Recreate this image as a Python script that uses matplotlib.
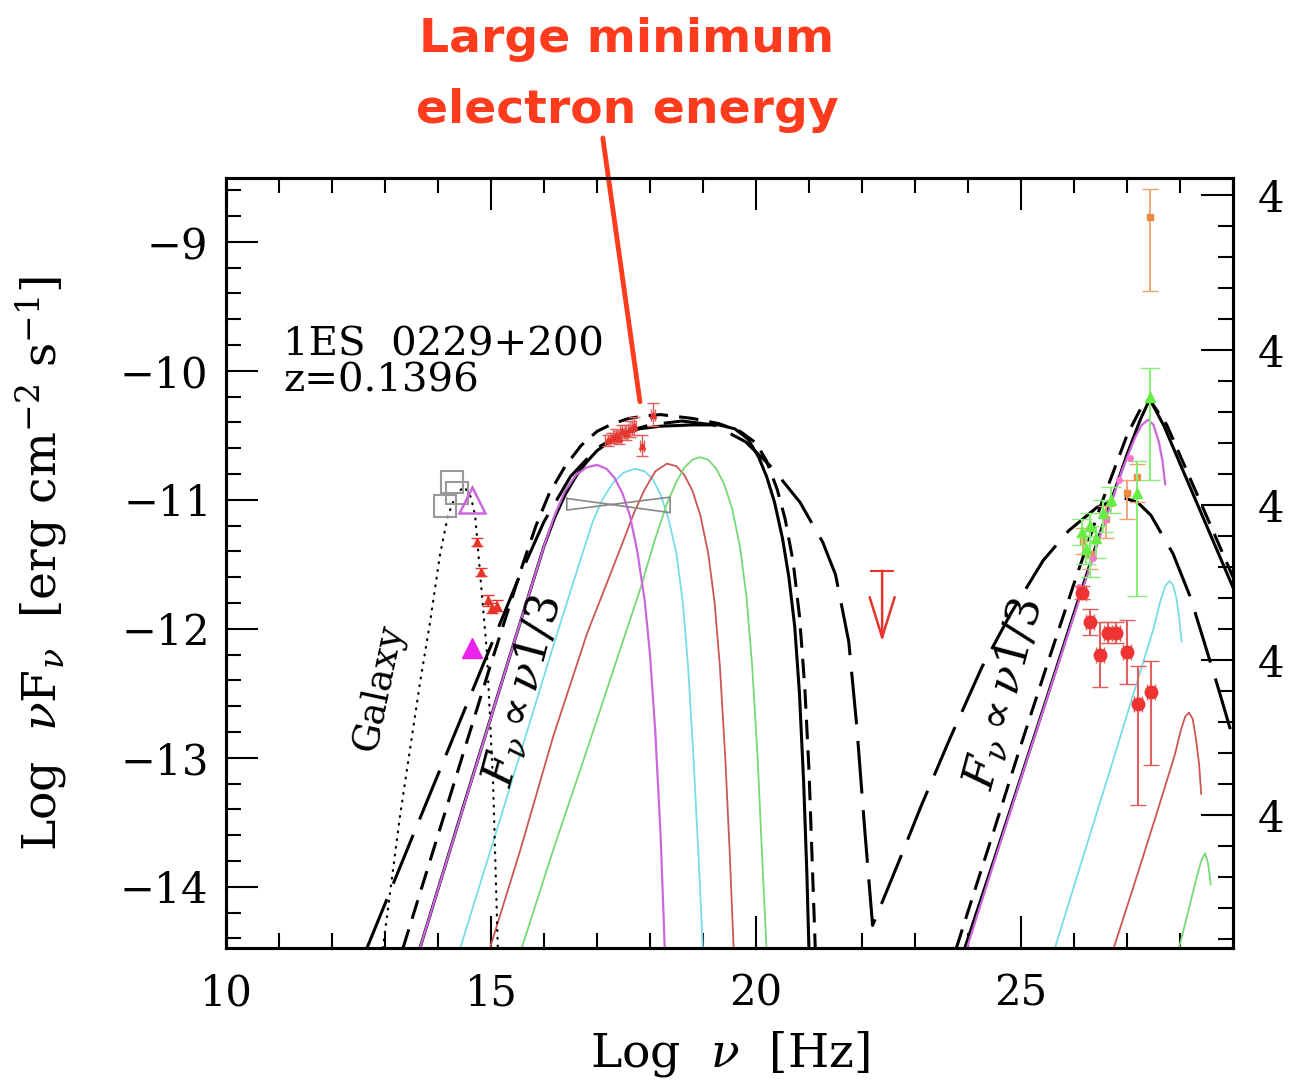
import numpy as np
import matplotlib
matplotlib.use("Agg")
import matplotlib.pyplot as plt
from matplotlib.ticker import MultipleLocator, FixedLocator, FixedFormatter

plt.rcParams['font.family'] = ['DejaVu Serif']
plt.rcParams['mathtext.fontset'] = 'dejavuserif'
plt.rcParams['lines.scale_dashes'] = False

# ---------------- data (Log nu, Log nuFnu) ----------------
# model curves
solid_syn_x = [13.66, 14.5, 15.5, 16.0, 16.2, 16.4, 16.6, 16.8, 17.0, 17.2, 17.5, 17.8, 18.2, 18.8, 19.3, 19.6, 19.85, 20.05, 20.2, 20.35, 20.5, 20.62, 20.73, 20.82, 20.9, 20.96, 21.0]
solid_syn_y = [-14.475, -13.35, -12.02, -11.36, -11.14, -10.96, -10.82, -10.71, -10.62, -10.56, -10.49, -10.45, -10.43, -10.42, -10.42, -10.45, -10.53, -10.67, -10.82, -11.02, -11.3, -11.6, -11.98, -12.5, -13.2, -13.9, -14.5]

sd_syn_x = [13.34, 14.0, 15.0, 15.6, 15.85, 16.1, 16.4, 16.7, 17.0, 17.3, 17.6, 17.9, 18.2, 18.8, 19.3, 19.7, 20.0, 20.2, 20.4, 20.55, 20.7, 20.82, 20.92, 21.0, 21.06, 21.12]
sd_syn_y = [-14.475, -13.6, -12.27, -11.5, -11.2, -10.95, -10.74, -10.58, -10.47, -10.41, -10.37, -10.35, -10.34, -10.37, -10.41, -10.47, -10.56, -10.7, -10.92, -11.15, -11.48, -11.9, -12.45, -13.1, -13.8, -14.5]

ld_x = [12.66, 13.5, 14.5, 15.5, 16.0, 16.5, 17.0, 17.5, 18.0, 18.6, 19.2, 19.8, 20.3, 20.83, 21.26, 21.5, 21.75, 21.9, 22.05, 22.2, 22.45, 22.72, 23.11, 23.66, 24.26, 24.81, 25.42, 25.9, 26.43, 26.9, 27.2, 27.45, 27.87, 28.2, 28.7, 29.0]
ld_y = [-14.475, -13.63, -12.63, -11.63, -11.17, -10.82, -10.6, -10.48, -10.42, -10.39, -10.42, -10.55, -10.75, -11.02, -11.33, -11.58, -12.1, -12.75, -13.55, -14.3, -14.05, -13.78, -13.38, -12.85, -12.3, -11.88, -11.47, -11.24, -11.06, -10.98, -11.02, -11.12, -11.42, -11.76, -12.43, -12.85]

ic_solid_x = [23.94, 24.5, 25.0, 25.5, 26.0, 26.5, 27.0, 27.25, 27.43, 27.7, 28.0, 28.5, 29.0]
ic_solid_y = [-14.475, -13.78, -13.15, -12.52, -11.88, -11.25, -10.65, -10.38, -10.22, -10.43, -10.72, -11.2, -11.68]

ic_sd_x = [23.78, 24.5, 25.0, 25.5, 26.0, 26.5, 27.0, 27.25, 27.42, 27.75, 28.1, 28.6, 29.0]
ic_sd_y = [-14.475, -13.55, -12.9, -12.27, -11.65, -11.05, -10.5, -10.3, -10.22, -10.42, -10.75, -11.22, -11.6]

# emission components (synchrotron bump)
mag_x = [13.66, 14.5, 15.5, 16.0, 16.2, 16.4, 16.6, 16.8, 17.0, 17.18, 17.33, 17.48, 17.62, 17.76, 17.9, 18.0, 18.1, 18.2, 18.28]
mag_y = [-14.475, -13.355, -12.02, -11.36, -11.12, -10.93, -10.81, -10.75, -10.73, -10.76, -10.83, -10.95, -11.12, -11.4, -11.78, -12.2, -12.8, -13.6, -14.5]
cya_x = [14.42, 15.2, 16.2, 16.7, 16.92, 17.1, 17.3, 17.5, 17.72, 17.9, 18.05, 18.2, 18.35, 18.5, 18.62, 18.72, 18.82, 18.92, 19.0]
cya_y = [-14.475, -13.44, -12.1, -11.45, -11.17, -11.0, -10.87, -10.79, -10.76, -10.78, -10.84, -10.96, -11.15, -11.42, -11.8, -12.3, -13.0, -13.8, -14.5]
red_x = [14.98, 15.55, 16.17, 16.81, 17.43, 17.7, 17.9, 18.1, 18.32, 18.5, 18.65, 18.8, 18.95, 19.1, 19.22, 19.32, 19.42, 19.5, 19.58]
red_y = [-14.475, -13.72, -12.84, -12.04, -11.39, -11.1, -10.92, -10.78, -10.72, -10.74, -10.81, -10.93, -11.12, -11.42, -11.8, -12.3, -13.0, -13.7, -14.5]
grn_x = [15.58, 16.17, 16.81, 17.43, 17.81, 18.1, 18.32, 18.5, 18.65, 18.8, 18.94, 19.1, 19.25, 19.4, 19.55, 19.7, 19.82, 19.93, 20.03, 20.12, 20.2]
grn_y = [-14.475, -13.72, -12.94, -12.17, -11.70, -11.3, -11.03, -10.86, -10.75, -10.69, -10.67, -10.69, -10.76, -10.88, -11.07, -11.37, -11.75, -12.3, -13.0, -13.8, -14.5]

# emission components (inverse Compton bump)
mag_ic_x = [23.98, 24.5, 25.0, 25.5, 26.0, 26.5, 26.9, 27.15, 27.28, 27.4, 27.5, 27.6, 27.67, 27.72]
mag_ic_y = [-14.475, -13.8, -13.16, -12.53, -11.9, -11.27, -10.78, -10.52, -10.42, -10.38, -10.42, -10.55, -10.7, -10.88]
cya_ic_x = [25.64, 26.2, 26.7, 27.2, 27.5, 27.62, 27.72, 27.8, 27.87, 27.93, 27.98, 28.03]
cya_ic_y = [-14.475, -13.73, -13.07, -12.4, -12.0, -11.8, -11.67, -11.63, -11.66, -11.76, -11.9, -12.1]
red_ic_x = [26.75, 27.2, 27.6, 27.9, 28.02, 28.1, 28.17, 28.24, 28.3, 28.36, 28.4]
red_ic_y = [-14.475, -13.9, -13.38, -12.98, -12.78, -12.68, -12.65, -12.7, -12.85, -13.05, -13.28]
grn_ic_x = [27.98, 28.15, 28.3, 28.4, 28.47, 28.53, 28.58]
grn_ic_y = [-14.475, -14.2, -13.95, -13.8, -13.74, -13.82, -13.98]

# galaxy template
gal_line_x = [12.96, 13.28, 13.66, 13.85, 14.04, 14.19, 14.35, 14.5, 14.62, 14.7, 14.79, 14.92, 15.04, 15.13]
gal_line_y = [-14.475, -13.46, -12.42, -11.95, -11.42, -11.12, -10.95, -10.9, -10.98, -11.12, -11.55, -12.17, -13.2, -14.5]

# observed points
gal_x = [14.27, 14.36, 14.13]
gal_y = [-10.86, -10.95, -11.05]
otri_x = [14.64]
otri_y = [-11.0]
ftri_x = [14.64]
ftri_y = [-12.15]
uv_x = [14.74, 14.81, 14.94, 15.02, 15.11]
uv_y = [-11.33, -11.56, -11.78, -11.84, -11.82]
uv_e = [0.03, 0.03, 0.04, 0.04, 0.04]

xr_x = [17.2, 17.28, 17.35, 17.42, 17.48, 17.55, 17.62, 17.7, 17.85, 18.06]
xr_y = [-10.54, -10.52, -10.50, -10.52, -10.47, -10.48, -10.45, -10.43, -10.58, -10.34]
xr_e = [0.04, 0.04, 0.05, 0.05, 0.05, 0.06, 0.06, 0.07, 0.08, 0.09]

bow_x = [16.43, 18.38, 18.38, 16.43, 16.43]
bow_y = [-10.99, -11.10, -10.98, -11.08, -10.99]

ul_x = [22.38]
ul_y = [-11.55]
ul_len = 0.55

tev_x = [26.15, 26.30, 26.49, 26.64, 26.79, 27.0, 27.21, 27.45]
tev_y = [-11.72, -11.95, -12.20, -12.03, -12.03, -12.18, -12.58, -12.49]
tev_lo = [0.05, 0.10, 0.25, 0.08, 0.08, 0.25, 0.79, 0.57]
tev_hi = [0.05, 0.10, 0.25, 0.08, 0.08, 0.25, 0.29, 0.24]

lat_x = [26.15, 26.22, 26.30, 26.42, 26.55, 26.70, 27.19, 27.43]
lat_y = [-11.25, -11.38, -11.20, -11.30, -11.10, -11.00, -10.95, -10.20]
lat_lo = [0.10, 0.12, 0.40, 0.15, 0.15, 0.10, 0.80, 0.65]
lat_hi = [0.10, 0.10, 0.10, 0.10, 0.10, 0.10, 0.25, 0.22]

org_x = [26.17, 26.30, 26.60, 27.00, 27.19, 27.43]
org_y = [-11.32, -11.42, -11.15, -10.95, -10.82, -8.81]
org_lo = [0.10, 0.12, 0.15, 0.20, 0.20, 0.57]
org_hi = [0.10, 0.10, 0.10, 0.10, 0.10, 0.22]

pink_x = [26.10, 26.35, 26.60, 26.85, 27.05]
pink_y = [-11.68, -11.45, -11.15, -10.85, -10.68]

# axes / labels
xlim = (10, 29)
ylim = (-14.475, -8.506)
xticks = [10, 15, 20, 25]
yticks = [-14, -13, -12, -11, -10, -9]
rticks = [43, 44, 45, 46, 47]
rticklabels = ['4', '4', '4', '4', '4']
rlim = (42.142, 47.11)

# ---------------- figure ----------------
W, H = 1297, 1090
fig = plt.figure(figsize=(W / 100, H / 100), dpi=100)
ax = fig.add_axes([226 / W, 1 - 948 / H, (1233 - 226) / W, (948 - 178) / H])
ax.set_xlim(*xlim)
ax.set_ylim(*ylim)

c_mag = '#cc66dd'
c_cya = '#77dde6'
c_red = '#cc5555'
c_grn = '#77d877'
tlw = 1.3

# synchrotron components
ax.plot(cya_x, cya_y, color=c_cya, lw=tlw, zorder=2)
ax.plot(red_x, red_y, color=c_red, lw=tlw, zorder=2)
ax.plot(grn_x, grn_y, color=c_grn, lw=tlw, zorder=2)
# IC components
ax.plot(cya_ic_x, cya_ic_y, color=c_cya, lw=tlw, zorder=2)
ax.plot(red_ic_x, red_ic_y, color=c_red, lw=tlw, zorder=2)
ax.plot(grn_ic_x, grn_ic_y, color=c_grn, lw=tlw, zorder=2)

# black model curves
blw = 2.2
ax.plot(solid_syn_x, solid_syn_y, color='black', lw=blw, zorder=3)
ax.plot(ic_solid_x, ic_solid_y, color='black', lw=blw, zorder=3)
ax.plot(sd_syn_x, sd_syn_y, color='black', lw=blw, dashes=(14, 8), zorder=3)
ax.plot(ic_sd_x, ic_sd_y, color='black', lw=blw, dashes=(14, 8), zorder=3)
ax.plot(ld_x, ld_y, color='black', lw=blw, dashes=(38, 12), zorder=3)

# magenta over black
ax.plot(mag_x, mag_y, color=c_mag, lw=tlw + 0.3, zorder=4)
ax.plot(mag_ic_x, mag_ic_y, color=c_mag, lw=tlw + 0.3, zorder=4)

# galaxy template
ax.plot(gal_line_x, gal_line_y, color='black', lw=1.6, ls=(0, (0.6, 5)), dash_capstyle='round', zorder=3)

# data points
ax.plot(gal_x, gal_y, ls='none', marker='s', ms=16, mfc='none', mec='#999999', mew=1.5, zorder=5)
ax.plot(otri_x, otri_y, ls='none', marker='^', ms=19, mfc='none', mec=c_mag, mew=1.8, zorder=5)
ax.plot(ftri_x, ftri_y, ls='none', marker='^', ms=15, color='#ee22ee', zorder=5)
ax.errorbar(uv_x, uv_y, yerr=uv_e, fmt='^', ms=6, color='#e8342a', ecolor='#e8342a', capsize=4, lw=1.2, zorder=5)

ax.plot(bow_x, bow_y, color='#888888', lw=1.2, zorder=4)
ax.errorbar(xr_x, xr_y, yerr=xr_e, xerr=0.04, fmt='^', ms=5, color='#e8342a', ecolor='#e06060', capsize=4, lw=1.0, zorder=5)

# upper limit
ax.plot(ul_x, ul_y, ls='none', marker='_', ms=17, mew=1.5, color='#e8342a', zorder=5)
ax.annotate('', xy=(ul_x[0], ul_y[0] - ul_len), xytext=(ul_x[0], ul_y[0]),
            arrowprops=dict(arrowstyle='->,head_length=2.9,head_width=0.9', color='#e8342a', lw=1.8,
                            shrinkA=0, shrinkB=0), zorder=5)

ax.errorbar(org_x, org_y, yerr=[org_lo, org_hi], fmt='s', ms=5, color='#ee8a40', ecolor='#eda070', capsize=6, lw=1.3, zorder=5)
ax.errorbar(lat_x, lat_y, yerr=[lat_lo, lat_hi], fmt='^', ms=7, color='#66ee44', ecolor='#88ee77', capsize=7, lw=1.5, zorder=6)
ax.plot(pink_x, pink_y, ls='none', marker='o', ms=4, color='#ff77cc', zorder=6)
ax.errorbar(tev_x, tev_y, yerr=[tev_lo, tev_hi], xerr=0.08, fmt='o', ms=9, color='#ee3333', ecolor='#e06060', capsize=6, lw=1.5, zorder=6)

# texts
ax.text(11.08, -9.66, '1ES  0229+200\nz=0.1396', ha='left', va='top', fontsize=29, linespacing=0.95, zorder=7)
ax.text(12.87, -12.45, 'Galaxy', rotation=78, ha='center', va='center', fontsize=27, zorder=7)
ax.text(15.6, -12.48, r'$F_\nu\propto\nu1/3$', rotation=75, ha='center', va='center', fontsize=32, zorder=7)
ax.text(24.68, -12.5, r'$F_\nu\propto\nu1/3$', rotation=75, ha='center', va='center', fontsize=32, zorder=7)

# axes styling
for s in ax.spines.values():
    s.set_linewidth(2.2)
ax.set_xticks(xticks)
ax.set_yticks(yticks)
ax.set_yticklabels([r'$-$%d' % abs(v) for v in yticks])
ax.xaxis.set_minor_locator(MultipleLocator(1))
ax.yaxis.set_minor_locator(MultipleLocator(0.2))
ax.tick_params(which='both', direction='in', top=True, bottom=True, left=True, right=False, width=1.5)
ax.tick_params(which='major', length=23, labelsize=30, pad=14)
ax.tick_params(which='minor', length=11)
ax.tick_params(axis='x', which='major', pad=18)

ax.set_xlabel(r'Log  $\nu$  [Hz]', fontsize=34)
ax.xaxis.set_label_coords(0.5, -0.105)
ax.set_ylabel(r'Log  $\nu$F$_\nu$  [erg cm$^{-2}$ s$^{-1}$]', fontsize=34)
ax.yaxis.set_label_coords(-0.155, 0.5)

ax2 = ax.twinx()
ax2.set_ylim(*rlim)
ax2.yaxis.set_major_locator(FixedLocator(rticks))
ax2.yaxis.set_major_formatter(FixedFormatter(rticklabels))
ax2.yaxis.set_minor_locator(MultipleLocator(0.2))
ax2.tick_params(which='both', direction='in', width=1.5)
ax2.tick_params(which='major', length=23, labelsize=30, pad=18)
ax2.tick_params(which='minor', length=11)
for s in ax2.spines.values():
    s.set_linewidth(2.2)

# annotation
red_ann = '#ff3b1e'
fig.text(627 / W, 1 - 40 / H, 'Large minimum', ha='center', va='center', color=red_ann,
         fontsize=34, fontweight='bold', family='DejaVu Sans')
fig.text(627 / W, 1 - 110 / H, 'electron energy', ha='center', va='center', color=red_ann,
         fontsize=34, fontweight='bold', family='DejaVu Sans')
ax.annotate('', xy=(17.81, -10.24), xytext=(17.11, -8.196), annotation_clip=False,
            arrowprops=dict(arrowstyle='-', color=red_ann, lw=3.5, shrinkA=0, shrinkB=0), zorder=8)

fig.savefig('out.png', dpi=100)
